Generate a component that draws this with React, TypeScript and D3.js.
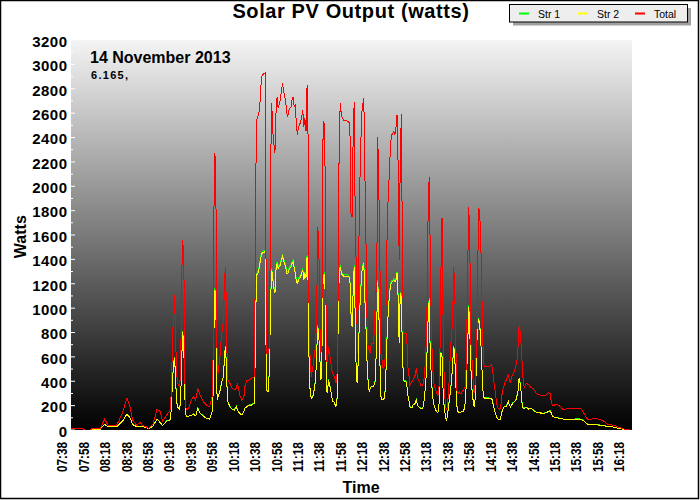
import React from 'react';
import * as d3 from 'd3';

// ---------------- data ----------------
const times = [
  "07:47","07:58","07:59","08:05","08:06","08:14","08:18","08:21","08:23","08:29",
  "08:31","08:35","08:38","08:39","08:42","08:44","08:48","08:51","08:53","08:57",
  "08:59","09:03","09:07","09:10","09:12","09:16","09:19","09:20","09:22","09:23",
  "09:24","09:25","09:26","09:28","09:29","09:30","09:31","09:32","09:33","09:34",
  "09:35","09:37","09:39","09:41","09:43","09:45","09:47","09:50","09:53","09:56",
  "09:59","10:00","10:01","10:02","10:03","10:04","10:06","10:07","10:09","10:10",
  "10:11","10:12","10:13","10:15","10:17","10:19","10:21","10:22","10:23","10:24",
  "10:26","10:28","10:29","10:31","10:33","10:35","10:38","10:39","10:40","10:41",
  "10:42","10:43","10:44","10:45","10:47","10:48","10:49","10:50","10:51","10:52",
  "10:53","10:54","10:55","10:56","10:57","10:58","10:59","11:00","11:02","11:04",
  "11:05","11:07","11:08","11:09","11:10","11:12","11:13","11:14","11:15","11:16",
  "11:17","11:18","11:19","11:20","11:21","11:22","11:23","11:24","11:25","11:26",
  "11:27","11:28","11:29","11:30","11:31","11:32","11:33","11:34","11:35","11:36",
  "11:37","11:38","11:39","11:40","11:41","11:42","11:43","11:44","11:45","11:46",
  "11:47","11:48","11:49","11:50","11:51","11:52","11:53","11:54","11:55","11:56",
  "11:57","11:58","11:59","12:00","12:01","12:06","12:07","12:08","12:09","12:10",
  "12:11","12:12","12:13","12:14","12:15","12:16","12:17","12:18","12:19","12:20",
  "12:21","12:22","12:23","12:24","12:25","12:26","12:27","12:29","12:30","12:31",
  "12:32","12:33","12:34","12:35","12:36","12:37","12:38","12:39","12:40","12:41",
  "12:42","12:43","12:44","12:45","12:46","12:47","12:48","12:49","12:50","12:51",
  "12:52","12:53","12:54","12:55","12:56","12:57","12:58","12:59","13:00","13:01",
  "13:02","13:03","13:04","13:05","13:06","13:07","13:08","13:09","13:10","13:11",
  "13:12","13:13","13:15","13:16","13:17","13:18","13:19","13:20","13:21","13:22",
  "13:23","13:24","13:25","13:26","13:27","13:28","13:29","13:30","13:31","13:32",
  "13:33","13:34","13:35","13:36","13:37","13:38","13:39","13:40","13:41","13:42",
  "13:43","13:44","13:45","13:46","13:47","13:48","13:49","13:50","13:51","13:52",
  "13:53","13:54","13:55","13:56","13:57","13:58","13:59","14:00","14:01","14:02",
  "14:03","14:04","14:05","14:06","14:07","14:08","14:09","14:10","14:11","14:12",
  "14:13","14:17","14:18","14:19","14:20","14:21","14:22","14:23","14:24","14:25",
  "14:26","14:27","14:28","14:29","14:30","14:31","14:32","14:33","14:34","14:35",
  "14:36","14:37","14:38","14:39","14:40","14:41","14:42","14:43","14:44","14:45",
  "14:46","14:47","14:48","14:49","14:50","14:52","14:54","14:56","14:58","15:00",
  "15:02","15:04","15:06","15:08","15:10","15:12","15:14","15:15","15:16","15:18",
  "15:20","15:22","15:24","15:26","15:28","15:30","15:42","15:44","15:46","15:48",
  "15:50","15:52","15:54","15:56","15:58","16:00","16:03","16:05","16:07","16:09",
  "16:12","16:15","16:17","16:19","16:21","16:23","16:26","16:28",
];

const total = [
  15,15,0,0,14,14,90,41,37,40,
  68,150,240,260,180,82,37,68,37,25,
  14,45,172,150,70,123,160,273,900,1108,
  880,500,383,355,492,1285,1559,1326,383,178,
  164,191,246,273,246,342,287,232,205,191,
  301,1778,2270,1805,574,465,629,766,900,1258,
  1340,711,410,383,342,328,342,383,342,287,
  246,273,355,410,410,424,438,2010,2543,2571,
  2598,2680,2831,2913,2926,2932,629,620,640,700,
  2174,2680,2448,2352,2270,2598,2735,2639,2708,2844,
  2790,2700,2598,2571,2626,2653,2708,2735,2653,2666,
  2516,2420,2489,2503,2530,2571,2626,2489,2557,2450,
  2831,2380,738,574,438,506,547,629,684,985,
  1668,1504,848,629,1100,2530,2516,2051,574,547,
  684,620,574,492,465,451,420,383,465,1121,
  2400,2680,2585,2557,2543,2530,2489,1778,1750,2380,
  2694,1700,1300,629,1258,1915,2284,2600,2666,2721,
  2100,1559,900,684,656,629,711,711,848,1149,
  1130,2407,1990,1395,629,574,506,520,602,1200,
  1750,1950,2150,2350,2420,2434,2448,2420,2480,2585,
  2188,1395,2188,2593,1504,793,793,800,793,520,
  465,369,383,397,410,430,451,506,438,410,
  397,369,369,397,492,656,1000,1764,2073,1477,
  848,574,410,355,330,301,287,300,574,1300,
  1737,900,410,219,164,191,301,450,684,766,
  950,1340,1100,656,320,301,315,301,301,315,
  330,342,355,684,1340,1832,1490,711,574,410,
  301,383,656,903,1819,1805,1614,1231,750,540,
  520,520,525,533,506,430,350,300,220,185,
  175,164,205,290,340,360,397,410,430,460,
  400,390,438,451,470,490,530,574,684,862,
  800,684,520,369,355,383,369,350,342,315,
  290,290,279,279,287,306,300,230,205,205,
  210,200,190,164,170,178,178,160,130,95,
  85,85,98,98,92,88,77,68,50,42,
  41,33,27,20,14,8,5,0,
];

const str2 = [
  10,10,0,0,8,8,47,27,25,25,
  40,75,120,129,96,45,27,30,27,20,
  12,30,90,60,37,74,82,150,500,588,
  492,250,191,170,250,600,800,629,250,120,
  109,115,120,130,115,178,140,115,96,88,
  164,793,1149,903,246,273,328,383,438,629,
  684,400,232,191,170,164,191,164,150,137,
  123,150,180,191,205,205,219,944,1272,1285,
  1313,1368,1422,1450,1463,1455,328,315,315,574,
  1080,1313,1240,1162,1121,1313,1368,1326,1354,1422,
  1395,1340,1285,1285,1313,1340,1368,1381,1326,1285,
  1217,1203,1231,1244,1258,1285,1313,1231,1285,1250,
  1422,1203,465,301,260,270,287,355,410,629,
  848,766,574,410,700,1258,1272,1121,328,301,
  410,370,328,273,232,232,210,191,260,848,
  1280,1340,1285,1272,1263,1258,1231,957,848,1121,
  1340,900,410,383,629,957,1121,1285,1340,1368,
  1067,848,561,397,315,342,355,355,380,410,
  848,1217,985,560,273,250,246,260,328,560,
  848,985,1121,1190,1210,1217,1231,1217,1231,1285,
  1094,711,1121,1094,650,410,397,400,380,290,
  246,191,180,185,205,212,219,246,205,190,
  186,178,178,219,301,410,629,903,1067,629,
  438,301,219,190,165,150,142,160,410,629,
  602,328,191,123,82,109,191,250,328,410,
  550,684,574,355,191,150,142,142,150,150,
  155,180,250,450,700,1012,793,500,330,246,
  191,260,500,848,903,880,766,574,340,270,
  260,260,258,255,246,200,160,137,105,92,
  85,82,109,150,170,191,191,191,215,232,
  200,190,205,219,226,235,246,280,320,424,
  380,301,191,178,180,185,170,178,164,150,
  142,142,137,137,142,150,156,140,115,104,
  101,98,96,90,82,88,90,82,72,50,
  46,46,46,45,42,40,36,33,30,27,
  25,20,14,12,8,5,2,0,
];

const str1 = [
  10,10,0,0,8,8,48,27,25,25,
  40,76,121,130,97,45,27,30,27,20,
  12,30,91,61,37,75,83,152,506,595,
  498,254,193,172,254,608,810,637,254,121,
  110,116,121,132,116,180,142,116,97,89,
  166,803,1161,913,250,277,332,388,443,637,
  692,405,235,193,172,166,193,166,152,139,
  125,152,182,193,208,208,222,955,1285,1298,
  1326,1381,1436,1464,1477,1469,332,319,319,581,
  1092,1326,1253,1175,1133,1326,1381,1339,1367,1436,
  1409,1353,1298,1298,1326,1353,1381,1394,1339,1298,
  1230,1216,1244,1257,1271,1298,1326,1244,1298,1263,
  1436,1216,470,305,263,273,291,359,415,637,
  858,775,581,415,708,1271,1285,1133,332,305,
  415,375,332,277,235,235,213,193,263,858,
  1293,1353,1298,1285,1276,1271,1244,968,858,1133,
  1353,910,415,388,637,968,1133,1298,1353,1381,
  1079,858,568,402,319,346,359,359,385,415,
  858,1230,996,567,277,253,249,263,332,567,
  858,996,1133,1203,1223,1230,1244,1230,1244,1298,
  1106,719,1133,1106,658,415,402,405,385,294,
  249,193,182,187,208,215,222,249,208,192,
  188,180,180,222,305,415,637,913,1079,637,
  443,305,222,192,167,152,144,162,415,637,
  609,332,193,125,83,110,193,253,332,415,
  557,692,581,359,193,152,144,144,152,152,
  157,182,253,455,708,1023,803,506,334,249,
  193,263,506,858,913,890,775,581,344,273,
  263,263,261,258,249,202,162,139,106,93,
  86,83,110,152,172,193,193,193,218,235,
  202,192,208,222,229,238,249,283,324,429,
  385,305,193,180,182,187,172,180,166,152,
  144,144,139,139,144,152,158,142,116,105,
  102,99,97,91,83,89,91,83,73,51,
  47,47,47,46,43,41,37,34,31,28,
  26,21,15,12,8,5,2,0,
];

const xTickLabels = [
  "07:38","07:58","08:18","08:38","08:58","09:18","09:38","09:58","10:18",
  "10:38","10:58","11:18","11:38","11:58","12:18","12:38","12:58","13:18",
  "13:38","13:58","14:18","14:38","14:58","15:18","15:38","15:58","16:18",
];

const yTickValues = [0,200,400,600,800,1000,1200,1400,1600,1800,2000,2200,2400,2600,2800,3000,3200];
const yMinorValues = [100,300,500,700,900,1100,1300,1500,1700,1900,2100,2300,2500,2700,2900,3100];

const seriesNames = ["Str 1", "Str 2", "Total"];
const seriesColors = ["#00ff00", "#ffff00", "#ff0000"];

const chartTitle = "Solar PV Output (watts)";
const dateText = "14 November 2013";
const subText = "6.165,";

// ---------------- component ----------------
export default function App() {
  const W = 700, H = 500;
  const left = 71, right = 632, top = 40, bottom = 430;
  const font = "'Liberation Sans', Arial, Helvetica, sans-serif";

  const parse = d3.timeParse('%H:%M');
  const parseS = d3.timeParse('%H:%M:%S');
  const x = d3.scaleTime()
    .domain([parseS('07:46:35') as Date, parseS('16:30:24') as Date])
    .range([left, right]);
  const y = d3.scaleLinear().domain([0, 3200]).range([bottom, top]);

  const pts = times.map(t => parse(t) as Date);
  const n = Math.min(times.length, total.length, str1.length, str2.length);
  const mkLine = (vals: number[]) =>
    d3.line<number>()
      .x((_, i) => x(pts[i]))
      .y(d => y(d))(vals.slice(0, n)) || '';

  const series = [str1, str2, total];

  const legendX = 509.5, legendY = 4.5, legendW = 178, legendH = 17.5;
  const legendItemX = [519, 578, 635];

  return (
    <svg width={W} height={H} style={{ position: 'absolute', left: 0, top: 0, background: '#fff' }}
      fontFamily={font}>
      <defs>
        <linearGradient id="bg" x1="0" y1="0" x2="0" y2="1">
          <stop offset="0" stopColor="#f4f4f4" />
          <stop offset="1" stopColor="#000000" />
        </linearGradient>
        <clipPath id="plotClip">
          <rect x={left} y={top - 2} width={right - left} height={bottom - top + 2} />
        </clipPath>
      </defs>
      <rect x={0} y={0} width={W} height={H} fill="#ffffff" />

      {/* plot background */}
      <rect x={left} y={top} width={right - left} height={bottom - top} fill="url(#bg)" />

      {/* y ticks inside */}
      {yTickValues.map(v => (
        <line key={'yt' + v} x1={left} x2={left + 4} y1={y(v)} y2={y(v)} stroke="#ffffff" strokeWidth={1} />
      ))}
      {yMinorValues.map(v => (
        <line key={'ym' + v} x1={left} x2={left + 2} y1={y(v)} y2={y(v)} stroke="#ffffff" strokeWidth={1} />
      ))}

      {/* series */}
      <g clipPath="url(#plotClip)">
        {series.map((s, i) => (
          <path key={seriesNames[i]} d={mkLine(s)} fill="none" stroke={seriesColors[i]} strokeWidth={1}
            strokeLinejoin="miter" shapeRendering="crispEdges" />
        ))}
      </g>

      {/* y tick labels */}
      {yTickValues.map(v => (
        <text key={'yl' + v} x={67.5} y={y(v) + 1.5} dy="0.35em" textAnchor="end"
          fontSize={15} fontWeight="bold" letterSpacing={0.5} fill="#000">{v}</text>
      ))}

      {/* x tick labels */}
      {xTickLabels.map(l => {
        const px = x(parse(l) as Date);
        return (
          <text key={'xl' + l} transform={`translate(${px + 5.5},442) rotate(-90)`} textAnchor="end"
            fontSize={15.5} fontWeight="bold" textLength={30} lengthAdjust="spacingAndGlyphs" fill="#000">{l}</text>
        );
      })}

      {/* axis titles */}
      <text transform="translate(26,236.7) rotate(-90)" textAnchor="middle" fontSize={16} fontWeight="bold">Watts</text>
      <text x={361} y={492.5} textAnchor="middle" fontSize={16} fontWeight="bold">Time</text>

      {/* title */}
      <text x={351} y={17.5} textAnchor="middle" fontSize={20} fontWeight="bold" letterSpacing={0.6}>{chartTitle}</text>

      {/* annotations */}
      <text x={90} y={63.3} fontSize={16} fontWeight="bold">{dateText}</text>
      <text x={91} y={79.3} fontSize={11} fontWeight="bold" letterSpacing={1.3}>{subText}</text>

      {/* legend */}
      <rect x={legendX + 3.5} y={legendY + 3.5} width={legendW} height={legendH} fill="#a0a0a0" />
      <rect x={legendX} y={legendY} width={legendW} height={legendH} fill="#eeeeee" stroke="#000" strokeWidth={1} />
      {seriesNames.map((nm, i) => (
        <g key={'lg' + nm}>
          <line x1={legendItemX[i]} x2={legendItemX[i] + 10} y1={13.5} y2={13.5} stroke={seriesColors[i]} strokeWidth={2} />
          <text x={legendItemX[i] + 19} y={17.5} fontSize={10.5} fill="#000">{nm}</text>
        </g>
      ))}

      {/* outer frame */}
      <rect x={0.5} y={0.5} width={698} height={498} fill="none" stroke="#000" strokeWidth={1.5} />
    </svg>
  );
}
